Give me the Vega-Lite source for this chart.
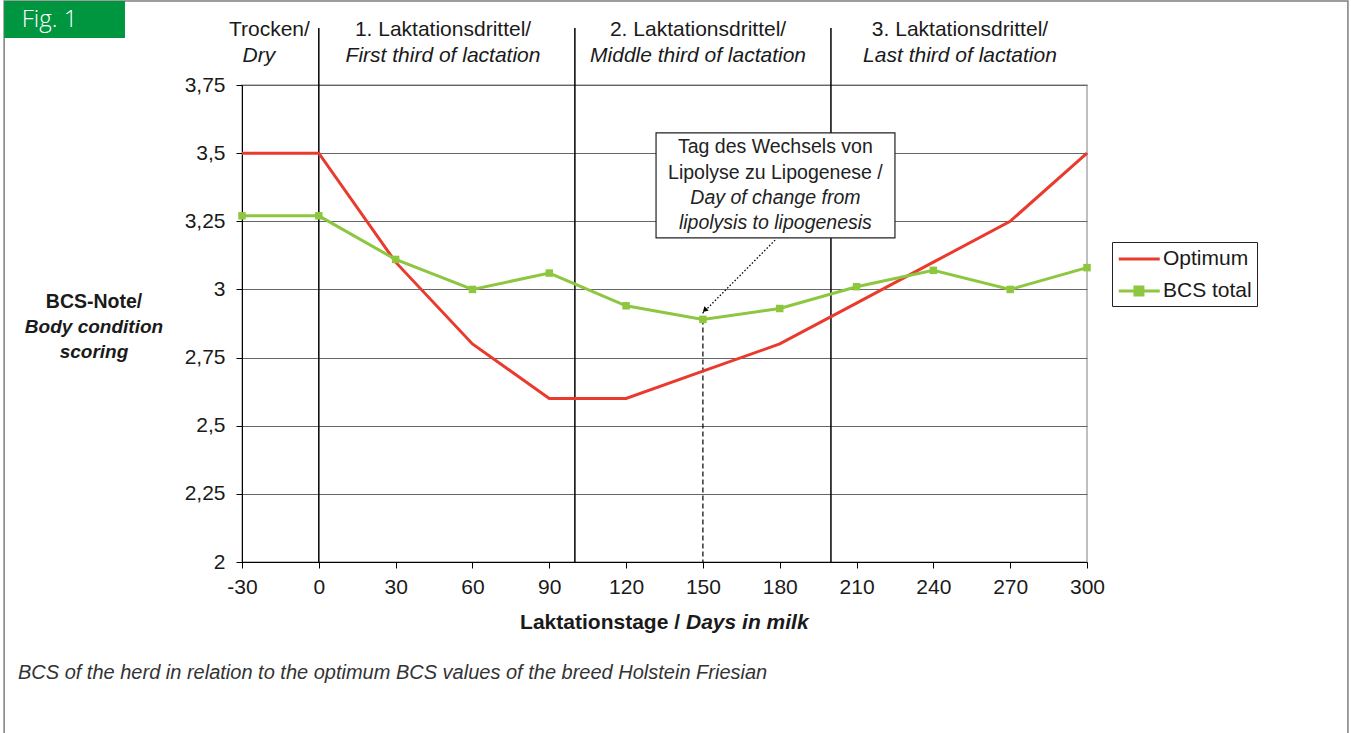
{
  "$schema": "https://vega.github.io/schema/vega-lite/v6.json",
  "autosize": "none",
  "width": 845,
  "height": 477,
  "padding": {"left": 242, "top": 85, "right": 264, "bottom": 171},
  "background": "white",
  "config": {
    "view": {"stroke": "#aaaaaa", "strokeWidth": 1.5},
    "text": {"font": "Liberation Sans"}
  },
  "datasets": {
    "series": [
      {"x": -30, "y": 3.5, "series": "Optimum"},
      {"x": 0, "y": 3.5, "series": "Optimum"},
      {"x": 30, "y": 3.1, "series": "Optimum"},
      {"x": 60, "y": 2.8, "series": "Optimum"},
      {"x": 90, "y": 2.6, "series": "Optimum"},
      {"x": 120, "y": 2.6, "series": "Optimum"},
      {"x": 150, "y": 2.7, "series": "Optimum"},
      {"x": 180, "y": 2.8, "series": "Optimum"},
      {"x": 210, "y": 2.95, "series": "Optimum"},
      {"x": 240, "y": 3.1, "series": "Optimum"},
      {"x": 270, "y": 3.25, "series": "Optimum"},
      {"x": 300, "y": 3.5, "series": "Optimum"},
      {"x": -30, "y": 3.27, "series": "BCS total"},
      {"x": 0, "y": 3.27, "series": "BCS total"},
      {"x": 30, "y": 3.11, "series": "BCS total"},
      {"x": 60, "y": 3.0, "series": "BCS total"},
      {"x": 90, "y": 3.06, "series": "BCS total"},
      {"x": 120, "y": 2.94, "series": "BCS total"},
      {"x": 150, "y": 2.89, "series": "BCS total"},
      {"x": 180, "y": 2.93, "series": "BCS total"},
      {"x": 210, "y": 3.01, "series": "BCS total"},
      {"x": 240, "y": 3.07, "series": "BCS total"},
      {"x": 270, "y": 3.0, "series": "BCS total"},
      {"x": 300, "y": 3.08, "series": "BCS total"}
    ]
  },
  "encoding": {
    "x": {
      "field": "x", "type": "quantitative",
      "scale": {"domain": [-30, 300], "nice": false, "zero": false},
      "axis": {
        "title": null, "values": [-30, 0, 30, 60, 90, 120, 150, 180, 210, 240, 270, 300],
        "labelExpr": "toString(datum.value)",
        "grid": false, "labelFont": "Liberation Sans", "labelFontSize": 21, "labelColor": "#1a1a1a",
        "tickColor": "#000", "domainColor": "#000", "tickSize": 6, "labelPadding": 8, "labelFlush": false
      }
    },
    "y": {
      "field": "y", "type": "quantitative",
      "scale": {"domain": [2, 3.75], "nice": false, "zero": false},
      "axis": {
        "title": null, "values": [2, 2.25, 2.5, 2.75, 3, 3.25, 3.5, 3.75],
        "grid": true, "gridColor": "#666666", "gridWidth": 1,
        "labelExpr": "replace(toString(datum.value), '.', ',')",
        "labelFont": "Liberation Sans", "labelFontSize": 21, "labelColor": "#1a1a1a",
        "tickColor": "#000", "domainColor": "#000", "tickSize": 6, "labelPadding": 11, "labelFlush": false
      }
    }
  },
  "layer": [
    {
      "data": {"values": [{"x": -122.9, "x2": 401.9, "y": 4.058, "y2": 1.3}]},
      "mark": {"type": "rect", "filled": false, "stroke": "#7f7f7f", "strokeWidth": 1.5},
      "encoding": {"x2": {"field": "x2"}, "y2": {"field": "y2"}}
    },
    {
      "data": {"values": [{"x": -122.9, "x2": -75.7, "y": 4.058, "y2": 3.922}]},
      "mark": {"type": "rect", "fill": "#009640"},
      "encoding": {"x2": {"field": "x2"}, "y2": {"field": "y2"}}
    },
    {
      "data": {"values": [{"x": -116.0, "y": 3.99, "text": "Fig. 1"}]},
      "mark": {"type": "text", "align": "left", "baseline": "middle", "font": "Open Sans", "fontSize": 24, "fontWeight": 300, "color": "white"},
      "encoding": {"text": {"field": "text"}}
    },
    {
      "data": {"values": [{"x": 0, "y": 3.959, "y2": 2}, {"x": 100, "y": 3.959, "y2": 2}, {"x": 200, "y": 3.959, "y2": 2}]},
      "mark": {"type": "rule", "color": "#000", "strokeWidth": 1.5},
      "encoding": {"y2": {"field": "y2"}}
    },
    {
      "data": {"values": [{"x": 150, "y": 2.89, "y2": 2}]},
      "mark": {"type": "rule", "color": "#000", "strokeWidth": 1.2, "strokeDash": [5, 3]},
      "encoding": {"y2": {"field": "y2"}}
    },
    {
      "data": {"name": "series"},
      "mark": {"type": "line", "strokeWidth": 3},
      "encoding": {
        "color": {
          "field": "series", "type": "nominal",
          "scale": {"domain": ["Optimum", "BCS total"], "range": ["#ea3a2e", "#8dc63f"]},
          "legend": {
            "title": null, "orient": "none", "legendX": 870, "legendY": 157,
            "strokeColor": "#222", "fillColor": "white", "padding": 5,
            "labelFont": "Liberation Sans", "labelFontSize": 21, "labelColor": "#1a1a1a",
            "symbolType": "M-1,0H3", "symbolSize": 420, "symbolStrokeWidth": 3,
            "labelOffset": 22, "rowPadding": 10,
            "encode": {
              "symbols": {
                "update": {
                  "shape": {"signal": "datum.value === 'BCS total' ? 'M-1,0H3M0.58,-0.38H1.36V0.38H0.58Z' : 'M-1,0H3'"},
                  "fill": {"signal": "datum.value === 'BCS total' ? '#8dc63f' : 'transparent'"}
                }
              }
            }
          }
        }
      }
    },
    {
      "data": {"name": "series"},
      "transform": [{"filter": "datum.series === 'BCS total'"}],
      "mark": {"type": "point", "shape": "square", "filled": true, "size": 56, "color": "#8dc63f", "opacity": 1}
    },
    {
      "data": {"values": [{"x": 178.2, "y": 3.181, "x2": 149.8, "y2": 2.912}]},
      "mark": {"type": "rule", "color": "#000", "strokeWidth": 1.3, "strokeDash": [1.5, 2]},
      "encoding": {"x2": {"field": "x2"}, "y2": {"field": "y2"}}
    },
    {
      "data": {"values": [{"x": 150.7, "y": 2.924}]},
      "mark": {"type": "point", "shape": "triangle-up", "filled": true, "color": "#000", "size": 36, "angle": 225, "opacity": 1}
    },
    {
      "data": {"values": [{"x": 131.7, "x2": 225.0, "y": 3.574, "y2": 3.189}]},
      "mark": {"type": "rect", "fill": "white", "stroke": "#222", "strokeWidth": 1.2},
      "encoding": {"x2": {"field": "x2"}, "y2": {"field": "y2"}}
    },
    {
      "data": {"values": [
        {"x": 178.3, "y": 3.523, "text": "Tag des Wechsels von"},
        {"x": 178.3, "y": 3.427, "text": "Lipolyse zu Lipogenese /"}
      ]},
      "mark": {"type": "text", "align": "center", "baseline": "middle", "fontSize": 19.5, "color": "#222"},
      "encoding": {"text": {"field": "text"}}
    },
    {
      "data": {"values": [
        {"x": 178.3, "y": 3.335, "text": "Day of change from"},
        {"x": 178.3, "y": 3.244, "text": "lipolysis to lipogenesis"}
      ]},
      "mark": {"type": "text", "align": "center", "baseline": "middle", "fontSize": 19.5, "fontStyle": "italic", "color": "#222"},
      "encoding": {"text": {"field": "text"}}
    },
    {
      "data": {"values": [
        {"x": -19.3, "y": 3.952, "text": "Trocken/"},
        {"x": 48.5, "y": 3.952, "text": "1. Laktationsdrittel/"},
        {"x": 148.1, "y": 3.952, "text": "2. Laktationsdrittel/"},
        {"x": 250.4, "y": 3.952, "text": "3. Laktationsdrittel/"}
      ]},
      "mark": {"type": "text", "align": "center", "baseline": "middle", "fontSize": 21, "color": "#1a1a1a"},
      "encoding": {"text": {"field": "text"}}
    },
    {
      "data": {"values": [
        {"x": -23.4, "y": 3.856, "text": "Dry"},
        {"x": 48.5, "y": 3.856, "text": "First third of lactation"},
        {"x": 148.1, "y": 3.856, "text": "Middle third of lactation"},
        {"x": 250.4, "y": 3.856, "text": "Last third of lactation"}
      ]},
      "mark": {"type": "text", "align": "center", "baseline": "middle", "fontSize": 21, "fontStyle": "italic", "color": "#1a1a1a"},
      "encoding": {"text": {"field": "text"}}
    },
    {
      "data": {"values": [{"x": -87.8, "y": 2.954, "text": "BCS-Note/"}]},
      "mark": {"type": "text", "align": "center", "baseline": "middle", "fontSize": 19.5, "fontWeight": "bold", "color": "#1a1a1a"},
      "encoding": {"text": {"field": "text"}}
    },
    {
      "data": {"values": [
        {"x": -87.8, "y": 2.862, "text": "Body condition"},
        {"x": -87.8, "y": 2.770, "text": "scoring"}
      ]},
      "mark": {"type": "text", "align": "center", "baseline": "middle", "fontSize": 19, "fontWeight": "bold", "fontStyle": "italic", "color": "#1a1a1a"},
      "encoding": {"text": {"field": "text"}}
    },
    {
      "data": {"values": [{"x": 141.05, "y": 1.776, "text": "Laktationstage /"}]},
      "mark": {"type": "text", "align": "right", "baseline": "middle", "fontSize": 21, "fontWeight": "bold", "color": "#1a1a1a"},
      "encoding": {"text": {"field": "text"}}
    },
    {
      "data": {"values": [{"x": 143.4, "y": 1.776, "text": "Days in milk"}]},
      "mark": {"type": "text", "align": "left", "baseline": "middle", "fontSize": 21, "fontWeight": "bold", "fontStyle": "italic", "color": "#1a1a1a"},
      "encoding": {"text": {"field": "text"}}
    },
    {
      "data": {"values": [{"x": -117.5, "y": 1.593, "text": "BCS of the herd in relation to the optimum BCS values of the breed Holstein Friesian"}]},
      "mark": {"type": "text", "align": "left", "baseline": "middle", "fontSize": 20, "fontStyle": "italic", "color": "#333"},
      "encoding": {"text": {"field": "text"}}
    }
  ]
}
